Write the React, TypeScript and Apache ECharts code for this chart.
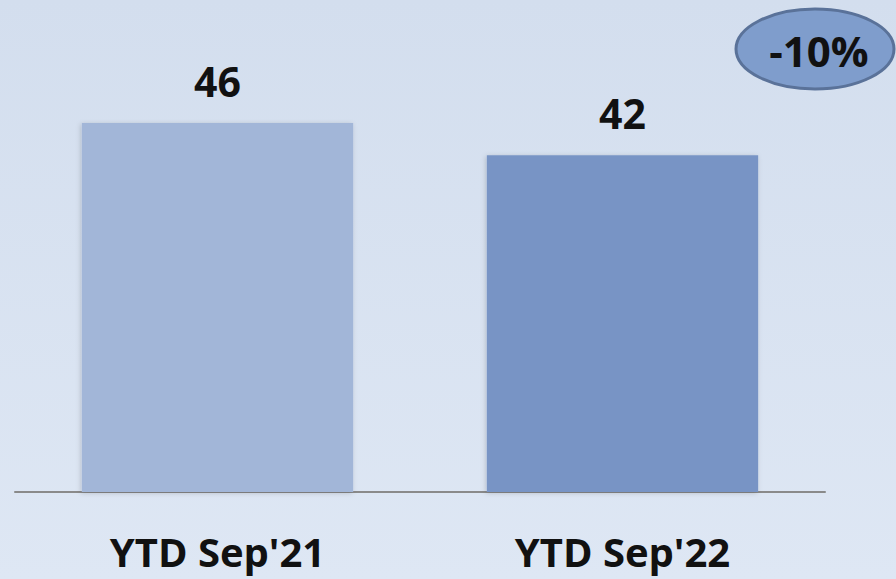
import React, { useEffect, useRef } from "react";
import * as echarts from "echarts";

const categories = ["YTD Sep'21", "YTD Sep'22"];
const values = [46, 42];
const barColors = ["#a2b6d8", "#7894c5"];
const changeLabel = "-10%";

export default function App() {
  const ref = useRef<HTMLDivElement>(null);
  useEffect(() => {
    if (!ref.current) return;
    const chart = echarts.init(ref.current, undefined, { renderer: "svg" });
    chart.setOption({
      animation: false,
      backgroundColor: {
        type: "linear",
        x: 0,
        y: 0,
        x2: 0,
        y2: 1,
        colorStops: [
          { offset: 0, color: "#d3deee" },
          { offset: 1, color: "#dee7f4" },
        ],
      },
      grid: { left: 15, right: 71, top: 91, bottom: 87 },
      xAxis: {
        type: "category",
        data: categories,
        axisLine: { lineStyle: { color: "#8a8a8a", width: 2 } },
        axisTick: { show: false },
        axisLabel: {
          fontFamily: "Open Sans",
          fontWeight: "bold",
          fontSize: 40,
          color: "#111",
          margin: 39,
        },
      },
      yAxis: {
        type: "value",
        min: 0,
        max: 50,
        show: false,
        splitLine: { show: false },
      },
      series: [
        {
          type: "bar",
          barWidth: "67%",
          data: values.map((v, i) => ({
            value: v,
            itemStyle: { color: barColors[i] },
          })),
          itemStyle: {
            shadowBlur: 5,
            shadowOffsetX: -1,
            shadowOffsetY: 1,
            shadowColor: "rgba(0,0,0,0.18)",
          },
          label: {
            show: true,
            position: "top",
            distance: 22,
            fontFamily: "Open Sans",
            fontWeight: "bold",
            fontSize: 41,
            color: "#111",
          },
        },
      ],
      graphic: [
        {
          type: "ellipse",
          shape: { cx: 815, cy: 49, rx: 79, ry: 40 },
          style: { fill: "#7f9dcc", stroke: "#5a7299", lineWidth: 3 },
        },
        {
          type: "text",
          x: 819,
          y: 50,
          style: {
            text: changeLabel,
            fontFamily: "Open Sans",
            fontWeight: "bold",
            fontSize: 42,
            fill: "#111",
            textAlign: "center",
            textVerticalAlign: "middle",
          },
        },
      ],
    });
    return () => chart.dispose();
  }, []);
  return (
    <div
      ref={ref}
      style={{ position: "fixed", left: 0, top: 0, width: 896, height: 579 }}
    />
  );
}
